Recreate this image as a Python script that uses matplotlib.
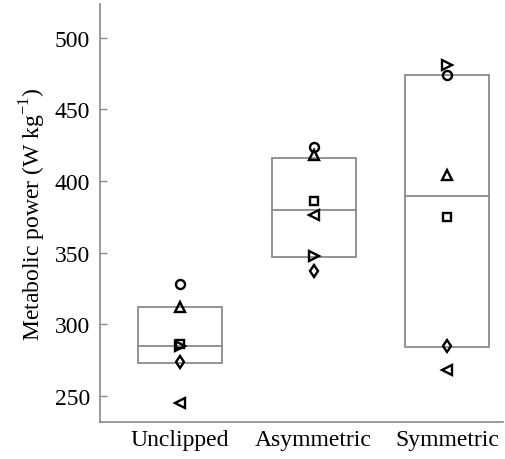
import matplotlib
matplotlib.use("Agg")
import matplotlib.pyplot as plt
from matplotlib.patches import Rectangle

plt.rcParams['font.family'] = ['Liberation Serif', 'DejaVu Serif']

categories = ["Unclipped", "Asymmetric", "Symmetric"]
# individual subject values per marker type
circle = [328, 424, 474]
tri_up = [312, 418, 404]
square = [286, 386, 375]
tri_right = [285, 348, 481]
diamond = [274, 337, 285]
tri_left = [245, 376, 268]
# box statistics
box_low = [273, 347, 284]
box_mid = [285, 380, 389.5]
box_high = [312, 416, 474]

yticks = [250, 300, 350, 400, 450, 500]

fig = plt.figure(figsize=(5.06, 4.60), dpi=100)
ax = fig.add_axes([0.1976, 0.0804, 0.797, 0.909])

gray = "#8a8a8a"
w = 0.63
for i in range(len(categories)):
    x = i + 1
    ax.add_patch(Rectangle((x - w / 2, box_low[i]), w, box_high[i] - box_low[i],
                           fill=False, edgecolor=gray, linewidth=1.3, zorder=1))
    ax.plot([x - w / 2, x + w / 2], [box_mid[i], box_mid[i]], color=gray, lw=1.3, zorder=1)

xs = [1, 2, 3]
ms = 6.5
mk = dict(linestyle="none", markerfacecolor="none", markeredgecolor="black",
          markeredgewidth=1.7, markersize=ms, zorder=3)
ax.plot(xs, circle, marker="o", **mk)
ax.plot(xs, tri_up, marker="^", **mk)
ax.plot(xs, square, marker="s", **dict(mk, markersize=5.5))
ax.plot(xs, tri_right, marker=">", **mk)
ax.plot(xs, diamond, marker="d", **mk)
ax.plot(xs, tri_left, marker="<", **mk)

ax.set_xlim(0.4, 3.42)
ax.set_ylim(231.8, 523.7)
ax.set_xticks(xs)
ax.set_xticklabels(categories, fontsize=17)
ax.set_yticks(yticks)
ax.set_yticklabels([str(t) for t in yticks], fontsize=17)
ax.tick_params(axis='y', direction='in', length=5, width=1, color=gray, pad=7)
ax.tick_params(axis='x', length=0, pad=5)
ax.spines['top'].set_visible(False)
ax.spines['right'].set_visible(False)
for s in ['left', 'bottom']:
    ax.spines[s].set_color(gray)
    ax.spines[s].set_linewidth(1.2)
ax.set_ylabel("Metabolic power (W kg$^{\\mathregular{-1}}$)", fontsize=17, labelpad=5)

fig.savefig("out.png", dpi=100)
